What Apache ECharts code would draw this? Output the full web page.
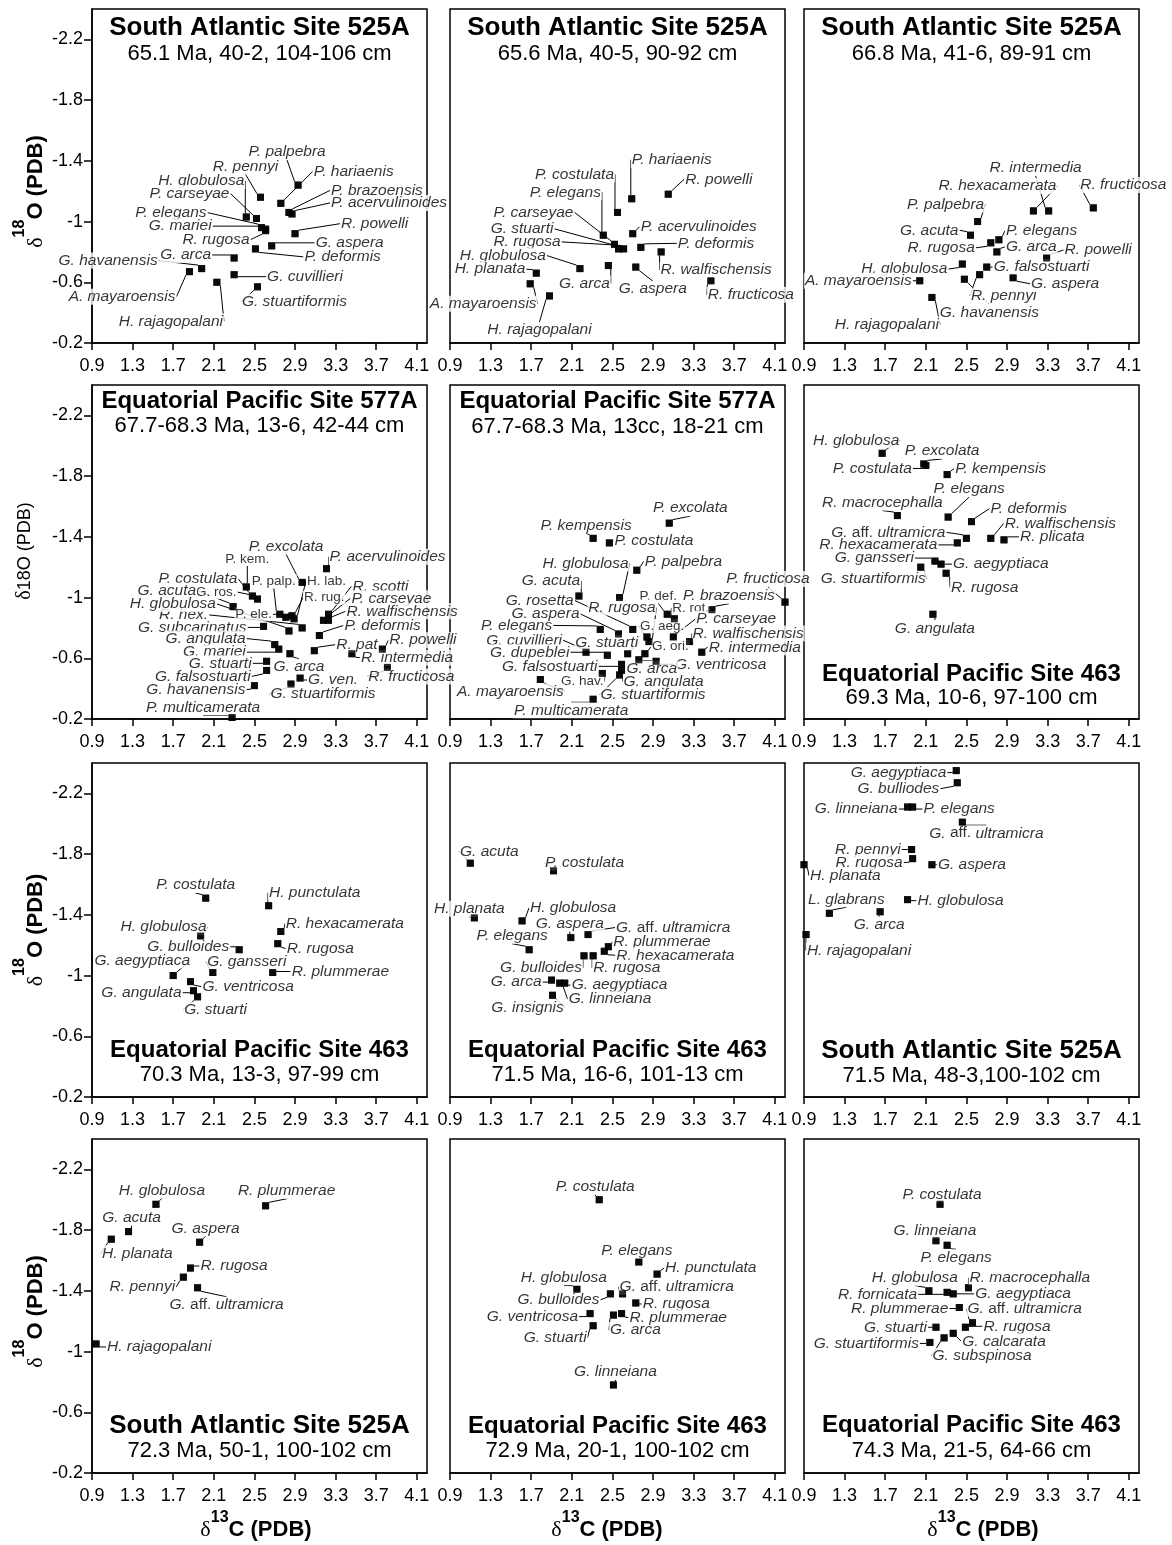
<!DOCTYPE html>
<html><head><meta charset="utf-8">
<script src="https://cdn.jsdelivr.net/npm/echarts@6/dist/echarts.min.js"></script>
<style>html,body{margin:0;padding:0;background:#fff}#c{width:1172px;height:1545px}</style>
</head><body><div id="c"></div>
<script>
// ---------------- DATA ----------------
const X_TICKS = [0.9, 1.3, 1.7, 2.1, 2.5, 2.9, 3.3, 3.7, 4.1];
const Y_TICKS = [-2.2, -1.8, -1.4, -1, -0.6, -0.2];

const TITLES = ['South Atlantic Site 525A','South Atlantic Site 525A','South Atlantic Site 525A',
  'Equatorial Pacific Site 577A','Equatorial Pacific Site 577A','Equatorial Pacific Site 463',
  'Equatorial Pacific Site 463','Equatorial Pacific Site 463','South Atlantic Site 525A',
  'South Atlantic Site 525A','Equatorial Pacific Site 463','Equatorial Pacific Site 463'];
const SUBTITLES = ['65.1 Ma, 40-2, 104-106 cm','65.6 Ma, 40-5, 90-92 cm','66.8 Ma, 41-6, 89-91 cm',
  '67.7-68.3 Ma, 13-6, 42-44 cm','67.7-68.3 Ma, 13cc, 18-21 cm','69.3 Ma, 10-6, 97-100 cm',
  '70.3 Ma, 13-3, 97-99 cm','71.5 Ma, 16-6, 101-13 cm','71.5 Ma, 48-3,100-102 cm',
  '72.3 Ma, 50-1, 100-102 cm','72.9 Ma, 20-1, 100-102 cm','74.3 Ma, 21-5, 64-66 cm'];

const P1_names = ['P. palpebra','R. pennyi','P. hariaenis','P. brazoensis','P. acervulinoides','H. globulosa','P. carseyae','P. elegans','G. mariei','R. rugosa','R. powelli','G. aspera','P. deformis','G. arca','G. havanensis','A. mayaroensis','G. cuvillieri','H. rajagopalani','G. stuartiformis'];
const P1_d13C = [2.93,2.56,2.76,2.84,2.87,2.42,2.52,2.57,2.61,2.61,2.90,2.67,2.51,2.30,1.98,1.86,2.30,2.13,2.53];
const P1_d18O = [-1.24,-1.16,-1.12,-1.06,-1.05,-1.03,-1.02,-0.96,-0.95,-0.94,-0.92,-0.84,-0.82,-0.76,-0.69,-0.67,-0.65,-0.60,-0.57];

const P2_names = ['P. hariaenis','R. powelli','P. costulata','P. elegans','P. carseyae','G. stuarti','R. rugosa','P. acervulinoides','P. deformis','R. walfischensis','H. globulosa','H. planata','G. arca','G. aspera','A. mayaroensis','H. rajagopalani','R. fructicosa'];
const P2_d13C = [2.69,3.05,2.55,2.41,2.52,2.56,2.61,2.70,2.78,2.98,2.18,1.75,2.46,2.73,1.69,1.88,3.47];
const P2_d18O = [-1.15,-1.18,-1.06,-0.91,-0.85,-0.82,-0.82,-0.92,-0.83,-0.80,-0.69,-0.66,-0.71,-0.70,-0.59,-0.51,-0.61];

const P3_names = ['R. fructicosa','R. hexacamerata','R. intermedia','P. palpebra','G. acuta','P. elegans','R. rugosa','G. arca','R. powelli','H. globulosa','G. falsostuarti','A. mayaroensis','G. havanensis','R. pennyi','G. aspera','H. rajagopalani'];
const P3_d13C = [3.75,3.16,3.31,2.61,2.54,2.82,2.74,2.80,3.29,2.46,2.70,2.04,2.48,2.63,2.96,2.16];
const P3_d18O = [-1.09,-1.07,-1.07,-1.00,-0.91,-0.88,-0.86,-0.80,-0.76,-0.72,-0.70,-0.61,-0.62,-0.65,-0.63,-0.50];

const P4_names = ['P. acervulinoides','P. excolata','P. kem.','P. costulata','G. ros.','G. acuta','P. palp.','P. ele.','R. rug.','H. lab.','R. scotti','P. carseyae','R. walfischensis','R. hex.','H. globulosa','G. subcarinatus','P. deformis','G. angulata','G. mariei','G. arca','R. pat','R. powelli','R. intermedia','R. fructicosa','G. stuarti','G. falsostuarti','G. ven.','G. stuartiformis','G. havanensis','P. multicamerata'];
const P4_d13C = [3.21,2.97,2.42,2.48,2.53,2.29,2.75,2.81,2.87,2.89,3.23,3.18,3.23,2.97,2.84,2.59,3.14,2.70,2.74,2.85,3.09,3.76,3.46,3.81,2.62,2.62,2.95,2.86,2.50,2.28];
const P4_d18O = [-1.19,-1.10,-1.07,-1.01,-0.99,-0.94,-0.89,-0.87,-0.88,-0.86,-0.89,-0.85,-0.85,-0.80,-0.78,-0.81,-0.75,-0.69,-0.66,-0.63,-0.65,-0.66,-0.63,-0.54,-0.58,-0.52,-0.47,-0.43,-0.42,-0.21];

const P5_names = ['P. excolata','P. kempensis','P. costulata','P. palpebra','G. acuta','H. globulosa','P. fructicosa','P. brazoensis','P. def.','R. rot.','G. rosetta','R. rugosa','G. aeg.','P. carseyae','R. walfischensis','R. intermedia','P. elegans','G. aspera','G. cuvillieri','G. dupeblei','G. stuarti','G. ori.','G. ventricosa','G. arca','G. falsostuarti','G. angulata','G. hav.','G. stuartiformis','A. mayaroensis','P. multicamerata'];
const P5_d13C = [3.06,2.31,2.47,2.74,2.17,2.57,4.20,3.48,3.04,3.11,2.70,2.86,2.84,3.10,3.26,3.38,2.38,2.56,2.24,2.45,2.65,2.82,2.93,2.76,2.59,2.59,2.40,2.57,1.79,2.31];
const P5_d18O = [-1.49,-1.39,-1.36,-1.18,-1.01,-1.00,-0.97,-0.92,-0.89,-0.86,-0.79,-0.71,-0.74,-0.74,-0.71,-0.64,-0.79,-0.76,-0.64,-0.62,-0.63,-0.63,-0.58,-0.59,-0.56,-0.52,-0.50,-0.49,-0.46,-0.33];

const P6_names = ['H. globulosa','P. excolata','P. costulata','P. kempensis','P. elegans','R. macrocephalla','P. deformis','R. walfischensis','G. aff. ultramicra','R. plicata','R. hexacamerata','G. gansseri','G. aegyptiaca','G. stuartiformis','R. rugosa','G. angulata'];
const P6_d13C = [1.67,2.08,2.10,2.31,2.32,1.82,2.55,2.74,2.50,2.87,2.41,2.19,2.25,2.05,2.30,2.17];
const P6_d18O = [-1.95,-1.88,-1.87,-1.81,-1.53,-1.54,-1.50,-1.39,-1.39,-1.38,-1.36,-1.24,-1.22,-1.20,-1.16,-0.89];

const P7_names = ['P. costulata','H. punctulata','R. hexacamerata','H. globulosa','R. rugosa','G. bulloides','G. aegyptiaca','G. gansseri','R. plummerae','G. ventricosa','G. angulata','G. stuarti'];
const P7_d13C = [2.02,2.64,2.76,1.97,2.73,2.35,1.70,2.09,2.68,1.87,1.90,1.94];
const P7_d18O = [-1.51,-1.46,-1.29,-1.26,-1.21,-1.17,-1.00,-1.02,-1.02,-0.96,-0.90,-0.86];

const P8_names = ['G. acuta','P. costulata','H. planata','H. globulosa','G. aspera','G. aff. ultramicra','P. elegans','R. plummerae','R. hexacamerata','G. bulloides','R. rugosa','G. arca','G. aegyptiaca','G. linneiana','G. insignis'];
const P8_d13C = [1.10,1.92,1.14,1.61,2.09,2.26,1.68,2.46,2.42,2.22,2.31,1.90,2.03,1.98,1.91];
const P8_d18O = [-1.74,-1.69,-1.38,-1.36,-1.25,-1.27,-1.17,-1.19,-1.16,-1.13,-1.13,-0.97,-0.95,-0.95,-0.87];

const P9_names = ['G. aegyptiaca','G. bulliodes','G. linneiana','P. elegans','G. aff. ultramicra','R. pennyi','R. rugosa','H. planata','G. aspera','L. glabrans','H. globulosa','G. arca','H. rajagopalani'];
const P9_d13C = [2.40,2.41,1.92,1.97,2.46,1.96,1.97,0.90,2.16,1.15,1.92,1.65,0.92];
const P9_d18O = [-2.35,-2.27,-2.11,-2.11,-2.01,-1.83,-1.77,-1.73,-1.73,-1.41,-1.50,-1.42,-1.27];

const P10_names = ['H. globulosa','R. plummerae','G. acuta','H. planata','G. aspera','R. rugosa','R. pennyi','G. aff. ultramicra','H. rajagopalani'];
const P10_d13C = [1.53,2.61,1.26,1.09,1.96,1.87,1.80,1.94,0.94];
const P10_d18O = [-1.97,-1.96,-1.79,-1.74,-1.72,-1.55,-1.49,-1.42,-1.05];

const P11_names = ['P. costulata','P. elegans','H. punctulata','H. globulosa','G. bulloides','G. aff. ultramicra','R. rugosa','G. ventricosa','G. arca','R. plummerae','G. stuarti','G. linneiana'];
const P11_d13C = [2.37,2.76,2.94,2.15,2.48,2.60,2.73,2.28,2.51,2.59,2.31,2.51];
const P11_d18O = [-2.00,-1.59,-1.51,-1.41,-1.38,-1.38,-1.32,-1.25,-1.24,-1.25,-1.17,-0.78];

const P12_names = ['P. costulata','G. linneiana','P. elegans','H. globulosa','R. macrocephalla','R. fornicata','G. aegyptiaca','R. plummerae','G. aff. ultramicra','R. rugosa','G. stuarti','G. calcarata','G. stuartiformis','G. subspinosa'];
const P12_d13C = [2.24,2.20,2.31,2.13,2.52,2.31,2.37,2.43,2.56,2.49,2.20,2.37,2.14,2.28];
const P12_d18O = [-1.97,-1.73,-1.70,-1.40,-1.42,-1.39,-1.38,-1.29,-1.19,-1.16,-1.16,-1.12,-1.06,-1.09];

// ---------------- LABEL PLACEMENT (pixel offsets from point, alignment) ----------------
const P1_lab = [[-11,-33,'c'],[-15,-31,'c'],[32,-32,'l'],[41,-22,'l'],[38,-11,'l'],[-1,-36,'r'],[-26,-25,'r'],[-54,-15,'r'],[-53,-3,'r'],[-15,9,'r'],[45,-10,'l'],[43,-3,'l'],[48,8,'l'],[-22,-3,'r'],[-43,-8,'r'],[-13,25,'r'],[32,2,'l'],[-46,39,'c'],[37,15,'c']];
const P2_lab = [[40,-39,'c'],[16,-15,'l'],[-43,-38,'c'],[-38,-43,'c'],[-40,-32,'r'],[-64,-20,'r'],[-62,-7,'r'],[7,-7,'l'],[36,-4,'l'],[55,18,'c'],[-33,-13,'r'],[-10,-4,'r'],[-24,18,'c'],[17,22,'c'],[-47,20,'c'],[-10,34,'c'],[40,14,'c']];
const P3_lab = [[30,-23,'c'],[-36,-25,'c'],[-13,-43,'c'],[-32,-17,'c'],[-11,-5,'r'],[6,-9,'l'],[-15,5,'r'],[8,-5,'l'],[17,-8,'l'],[-14,5,'r'],[6,0,'l'],[-7,0,'r'],[25,33,'c'],[24,21,'c'],[17,6,'l'],[-45,27,'c']];
const P4_lab = [[2,-12,'l'],[-16,-36,'c'],[1,-28,'c'],[-14,-17,'r'],[-20,-7,'r'],[-36,-16,'r'],[-6,-33,'c'],[-13,-3,'r'],[11,-18,'l'],[12,-38,'l'],[23,-28,'l'],[27,-22,'l'],[17,-9,'l'],[-93,-13,'r'],[-72,-27,'r'],[-16,1,'r'],[24,-10,'l'],[-28,-6,'r'],[-32,3,'r'],[9,13,'c'],[21,-6,'l'],[6,-9,'l'],[8,4,'l'],[24,9,'c'],[-14,2,'r'],[-15,6,'r'],[7,2,'l'],[32,10,'c'],[-8,4,'r'],[-29,-10,'c']];
const P5_lab = [[21,-15,'c'],[-7,-13,'c'],[4,-2,'l'],[7,-9,'l'],[-28,-15,'c'],[-34,-34,'c'],[-17,-23,'c'],[17,-14,'c'],[-9,-18,'c'],[-3,-11,'l'],[-58,-29,'r'],[-27,-34,'c'],[-8,-11,'l'],[22,-18,'l'],[2,-8,'l'],[6,-5,'l'],[-47,-4,'r'],[-38,-20,'r'],[-23,-12,'r'],[-37,-3,'r'],[-21,-11,'c'],[6,-7,'l'],[18,3,'l'],[13,9,'c'],[-23,2,'r'],[1,11,'l'],[-20,8,'c'],[-20,20,'l'],[-30,12,'c'],[-22,11,'c']];
const P6_lab = [[-26,-13,'c'],[-20,-13,'l'],[-13,3,'r'],[7,-6,'l'],[21,-28,'c'],[-15,-13,'c'],[18,-13,'l'],[13,-15,'l'],[-20,-6,'r'],[15,-3,'l'],[-19,2,'r'],[-20,-3,'r'],[11,0,'l'],[6,12,'r'],[4,14,'l'],[2,14,'c']];
const P7_lab = [[-10,-13,'c'],[46,-13,'c'],[4,-8,'l'],[-37,-9,'c'],[8,5,'l'],[-9,-3,'r'],[-31,-15,'c'],[34,-11,'c'],[18,-1,'l'],[11,5,'l'],[-11,2,'r'],[18,13,'c']];
const P8_lab = [[19,-12,'c'],[31,-8,'c'],[-5,-9,'c'],[51,-13,'c'],[-1,-14,'c'],[27,-7,'l'],[-17,-14,'c'],[4,-5,'l'],[11,4,'l'],[-43,12,'c'],[-1,12,'l'],[-9,2,'r'],[6,2,'l'],[8,16,'l'],[-25,12,'c']];
const P9_lab = [[-9,2,'r'],[-17,6,'r'],[-9,2,'r'],[10,2,'l'],[24,11,'c'],[-10,0,'r'],[-9,4,'r'],[5,11,'l'],[5,0,'l'],[17,-14,'c'],[9,1,'l'],[-1,13,'c'],[53,16,'c']];
const P10_lab = [[6,-14,'c'],[21,-15,'c'],[3,-14,'c'],[26,14,'c'],[6,-14,'c'],[9,-2,'l'],[-41,10,'c'],[29,17,'c'],[10,3,'l']];
const P11_lab = [[-4,-13,'c'],[-2,-11,'c'],[7,-6,'l'],[-13,-12,'c'],[-10,6,'r'],[-4,-7,'l'],[6,1,'l'],[-11,3,'r'],[22,15,'c'],[7,4,'l'],[-38,12,'c'],[2,-13,'c']];
const P12_lab = [[2,-10,'c'],[-1,-10,'c'],[9,12,'c'],[-14,-13,'c'],[0,-10,'l'],[-29,2,'r'],[21,0,'l'],[-10,1,'r'],[-6,-14,'l'],[17,-1,'l'],[-8,0,'r'],[8,8,'l'],[-10,1,'r'],[38,18,'c']];

const UPRIGHT = ['P. kem.','G. ros.','P. palp.','H. lab.','R. rug.','P. ele.','P. def.','R. rot.','G. aeg.','G. ori.','G. hav.'];

// ---------------- LAYOUT ----------------
const FONT = '"Liberation Sans", Arial, Helvetica, sans-serif';
const SERIF = '"Liberation Serif", "Times New Roman", serif';
const COL_LEFT = [92, 450, 804];
const ROW_TOP = [9, 385, 763, 1139];
const W = 335, H = 334;
const TITLE_Y = [[27.7,54],[27.7,54],[28,53.5],[401.7,426.3],[401.7,426.5],[674,698.3],[1050.7,1075],[1050.7,1075],[1050.7,1076],[1426,1451],[1426,1450.7],[1425.5,1450.7]];
const LABEL_SIZE = 15.5;

const PANELS = [
  [P1_names,P1_d13C,P1_d18O,P1_lab],[P2_names,P2_d13C,P2_d18O,P2_lab],[P3_names,P3_d13C,P3_d18O,P3_lab],
  [P4_names,P4_d13C,P4_d18O,P4_lab],[P5_names,P5_d13C,P5_d18O,P5_lab],[P6_names,P6_d13C,P6_d18O,P6_lab],
  [P7_names,P7_d13C,P7_d18O,P7_lab],[P8_names,P8_d13C,P8_d18O,P8_lab],[P9_names,P9_d13C,P9_d18O,P9_lab],
  [P10_names,P10_d13C,P10_d18O,P10_lab],[P11_names,P11_d13C,P11_d18O,P11_lab],[P12_names,P12_d13C,P12_d18O,P12_lab]
];
const ALIGN = {l:'left', r:'right', c:'center'};

const grids = [], xAxes = [], yAxes = [], series = [], graphics = [];
const axisLine = {show:true, onZero:false, lineStyle:{color:'#000', width:1.5}};
const tickStyle = {color:'#000', width:1.5};

PANELS.forEach((p, i) => {
  const [names, xs, ys, labs] = p;
  const r = Math.floor(i / 3), c = i % 3;
  const left = COL_LEFT[c], top = ROW_TOP[r];
  grids.push({left, top, width:W, height:H, show:true, borderColor:'#000', borderWidth:1.5,
    backgroundColor:'rgba(0,0,0,0)', containLabel:false, outerBoundsMode:'none'});
  xAxes.push({type:'value', gridIndex:i, min:0.9, max:4.2, position:'bottom',
    axisLine, splitLine:{show:false},
    axisTick:{show:true, inside:false, length:7, customValues:X_TICKS, lineStyle:tickStyle},
    axisLabel:{show:true, customValues:X_TICKS, margin:14, fontSize:18, fontFamily:FONT, color:'#000',
      formatter: v => String(v)}});
  yAxes.push({type:'value', gridIndex:i, min:-2.4, max:-0.2, inverse:true,
    axisLine:{show:c===0, onZero:false, lineStyle:{color:'#000', width:1.5}}, splitLine:{show:false},
    axisTick:{show:c===0, inside:false, length:8, customValues:Y_TICKS, lineStyle:tickStyle},
    axisLabel:{show:c===0, customValues:Y_TICKS, margin:9, fontSize:18, fontFamily:FONT, color:'#000',
      formatter: v => String(v)}});
  const items = names.map((n, k) => {
    const lab = {align:ALIGN[labs[k][2]], verticalAlign:'middle'};
    if (UPRIGHT.indexOf(n) >= 0) { lab.fontStyle = 'normal'; lab.fontSize = LABEL_SIZE - 2; }
    return {name:n, value:[xs[k], ys[k]], label:lab};
  });
  series.push({type:'scatter', xAxisIndex:i, yAxisIndex:i, data:items, symbol:'rect', symbolSize:7,
    itemStyle:{color:'#000'}, clip:false, silent:true, z:2,
    label:{show:true, position:'right', color:'#000', fontFamily:FONT, fontSize:LABEL_SIZE, fontStyle:'italic',
      backgroundColor:'#fff', padding:[0,1], textBorderWidth:0,
      formatter: prm => {
        const n = prm.name;
        if (n.indexOf(' aff. ') >= 0) {
          const parts = n.split(' aff. ');
          return '{i|' + parts[0] + ' }{u|aff. }{i|' + parts[1] + '}';
        }
        return n;
      },
      rich:{i:{fontStyle:'italic', fontSize:LABEL_SIZE, fontFamily:FONT, color:'#000'},
            u:{fontStyle:'normal', fontSize:LABEL_SIZE, fontFamily:FONT, color:'#000'}}},
    labelLine:{show:true, length2:0, smooth:false, lineStyle:{color:'#000', width:1}},
    labelLayout: prm => {
      const lb = labs[prm.dataIndex];
      return {x: prm.rect.x + prm.rect.width / 2 + lb[0], y: prm.rect.y + prm.rect.height / 2 + lb[1],
        align: ALIGN[lb[2]], verticalAlign:'middle', hideOverlap:false};
    }
  });
  series.push({type:'scatter', xAxisIndex:i, yAxisIndex:i, data:names.map((n,k)=>({name:n, value:[xs[k], ys[k]]})),
    symbol:'rect', symbolSize:7, itemStyle:{color:'#000'}, clip:false, silent:true, z:4, label:{show:false}});
  const cx = left + W / 2;
  const tSize = TITLES[i].indexOf('South') === 0 ? 26 : 24;
  graphics.push({type:'text', x:cx, y:TITLE_Y[i][0], z:50, style:{text:TITLES[i], fill:'#000',
    font:'bold ' + tSize + 'px ' + FONT, textAlign:'center', textVerticalAlign:'middle', align:'center', verticalAlign:'middle'}});
  graphics.push({type:'text', x:cx, y:TITLE_Y[i][1], z:50, style:{text:SUBTITLES[i], fill:'#000',
    font:'22px ' + FONT, textAlign:'center', textVerticalAlign:'middle', align:'center', verticalAlign:'middle'}});
});

// axis titles
const boldRich = (supPad) => ({
  d:{fontSize:22, fontFamily:SERIF, fill:'#000'},
  s:{fontSize:16, fontWeight:'bold', fontFamily:FONT, fill:'#000', padding:[0,0,supPad,0]},
  b:{fontSize:22, fontWeight:'bold', fontFamily:FONT, fill:'#000'}
});
[[36,191.5],[36,930],[36,1311.5]].forEach(pt => {
  graphics.push({type:'text', x:pt[0], y:pt[1], rotation:Math.PI/2, z:50,
    style:{text:'{d|δ}{s|18}{b|O (PDB)}', rich:boldRich(32), textAlign:'center', textVerticalAlign:'middle', align:'center', verticalAlign:'middle'}});
});
graphics.push({type:'text', x:25, y:551, rotation:Math.PI/2, z:50,
  style:{text:'{d|δ}{n|18O (PDB)}', rich:{d:{fontSize:20, fontFamily:SERIF, fill:'#000'}, n:{fontSize:18, fontFamily:FONT, fill:'#000'}},
    textAlign:'center', textVerticalAlign:'middle', align:'center', verticalAlign:'middle'}});
[256, 607, 983].forEach(x => {
  graphics.push({type:'text', x:x, y:1530, z:50,
    style:{text:'{d|δ}{s|13}{b|C (PDB)}', rich:boldRich(24), textAlign:'center', textVerticalAlign:'middle', align:'center', verticalAlign:'middle'}});
});

const chart = echarts.init(document.getElementById('c'), null, {renderer:'canvas'});
chart.setOption({animation:false, backgroundColor:'#fff', grid:grids, xAxis:xAxes, yAxis:yAxes, series:series, graphic:graphics});
</script></body></html>
